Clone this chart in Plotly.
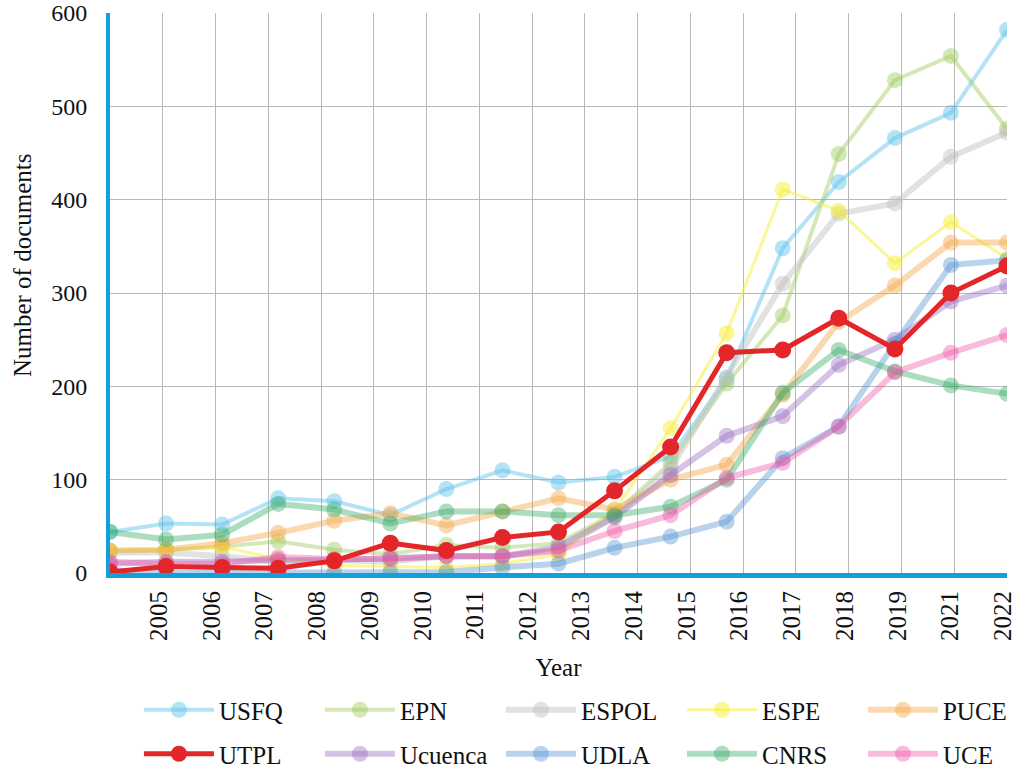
import numpy as np
import plotly.graph_objects as go

# Tick labels shown on the x axis (17 ticks) and the 17 data points
tick_labels = ["2005", "2006", "2007", "2008", "2009", "2010", "2011", "2012", "2013",
               "2014", "2015", "2016", "2017", "2018", "2019", "2021", "2022"]
point_labels = ["p%02d" % i for i in range(17)]

usfq    = [44, 53, 52, 80, 77, 62, 90, 110, 97, 103, 125, 208, 348, 419, 466, 493, 582]
epn     = [24, 25, 28, 34, 25, 20, 30, 27, 32, 64, 118, 203, 276, 449, 528, 554, 476]
espol   = [22, 22, 18, 12, 14, 12, 18, 18, 25, 60, 112, 210, 310, 385, 396, 446, 472]
espe    = [24, 25, 28, 15, 8, 7, 6, 10, 20, 67, 155, 257, 411, 388, 332, 376, 337]
puce    = [24, 25, 32, 43, 56, 64, 51, 66, 80, 68, 100, 116, 191, 269, 308, 354, 354]
utpl    = [1, 7, 6, 5, 13, 32, 24, 38, 44, 88, 135, 236, 239, 273, 240, 300, 329]
ucuenca = [10, 12, 12, 14, 14, 16, 18, 18, 28, 60, 105, 147, 168, 223, 250, 291, 308]
udla    = [3, 0, 0, 0, 0, 1, 1, 6, 10, 27, 39, 55, 123, 157, 246, 330, 335]
cnrs    = [44, 36, 41, 74, 68, 53, 66, 66, 62, 62, 71, 100, 193, 239, 216, 201, 192]
uce     = [12, 10, 10, 17, 15, 15, 18, 18, 24, 45, 62, 102, 118, 157, 215, 236, 255]

# name, values, colour, line width, legend (row), rank, last-in-row
series = [
    ("USFQ", usfq, "rgba(91,192,235,0.45)", 4, "legend", 1, False),
    ("EPN", epn, "rgba(160,205,95,0.45)", 4, "legend", 2, False),
    ("ESPOL", espol, "rgba(190,190,190,0.45)", 6, "legend", 3, False),
    ("ESPE", espe, "rgba(248,238,50,0.5)", 3, "legend", 4, False),
    ("PUCE", puce, "rgba(245,170,80,0.45)", 6, "legend", 5, True),
    ("Ucuenca", ucuenca, "rgba(150,105,190,0.4)", 6, "legend2", 7, False),
    ("UDLA", udla, "rgba(80,145,210,0.4)", 6, "legend2", 8, False),
    ("CNRS", cnrs, "rgba(50,170,100,0.4)", 6, "legend2", 9, False),
    ("UCE", uce, "rgba(238,85,165,0.4)", 6, "legend2", 10, True),
    ("UTPL", utpl, "#e3262a", 5, "legend2", 6, False),
]

FONT = "Liberation Serif"
TXT = "#111111"
BLUE = "#129fdc"

fig = go.Figure()
for name, vals, col, lw, leg, rank, last in series:
    big = name == "UTPL"
    fig.add_trace(go.Scatter(
        x=point_labels, y=vals, name=name, mode="lines+markers",
        line=dict(color=col, width=lw),
        marker=dict(color=col, size=17 if big else 16),
        legend=leg, legendrank=rank, legendwidth=60 if last else 96,
        hoverinfo="skip",
    ))

# helper trace that only registers the tick axis
fig.add_trace(go.Scatter(x=[], y=[], xaxis="x2", showlegend=False, hoverinfo="skip"))

legend_common = dict(orientation="h", xref="container", yref="container",
                     x=0.1365, xanchor="left", yanchor="middle",
                     font=dict(family=FONT, size=25, color=TXT),
                     itemwidth=70, entrywidthmode="pixels",
                     bgcolor="rgba(0,0,0,0)", traceorder="normal")

fig.update_layout(
    width=1018, height=769,
    margin=dict(l=110, r=11, t=13, b=196),
    paper_bgcolor="white", plot_bgcolor="white",
    font=dict(family=FONT, size=25, color=TXT),
    showlegend=True,
    legend=dict(legend_common, y=1 - 710 / 769),
    legend2=dict(legend_common, y=1 - 754 / 769),
    xaxis=dict(type="category", range=[0, len(point_labels) - 1], automargin=False,
               showgrid=False, zeroline=False, showticklabels=False, ticks="",
               showline=True, linecolor=BLUE, linewidth=5, layer="below traces"),
    xaxis2=dict(overlaying="x", anchor="y", side="bottom", automargin=False,
                range=[0, len(tick_labels)],
                tickmode="array", tickvals=list(np.arange(1, len(tick_labels) + 1)),
                ticktext=tick_labels, tickangle=-90, ticklabeloverflow="allow",
                ticklabelshift=-4,
                tickfont=dict(family=FONT, size=25, color=TXT),
                showgrid=True, gridcolor="#b8b8b8", gridwidth=1,
                zeroline=False, showline=False, ticks="", ticklabelstandoff=12,
                title=dict(text="Year", font=dict(family=FONT, size=25, color=TXT),
                           standoff=18),
                layer="below traces"),
    yaxis=dict(range=[0, 600], dtick=100, automargin=False,
               showgrid=True, gridcolor="#b8b8b8", gridwidth=1,
               zeroline=False, showline=True, linecolor=BLUE, linewidth=4,
               ticks="", ticklabelstandoff=14,
               tickfont=dict(family=FONT, size=24, color=TXT),
               layer="below traces"),
    annotations=[dict(text="Number of documents", textangle=-90, xref="paper", yref="paper",
                      x=-0.098, y=0.55, xanchor="center", yanchor="middle", showarrow=False,
                      font=dict(family=FONT, size=25, color=TXT))],
)

fig.write_html("out.html", config={"displayModeBar": False},
               post_script="document.body.style.margin='0';document.body.style.overflow='hidden';")
